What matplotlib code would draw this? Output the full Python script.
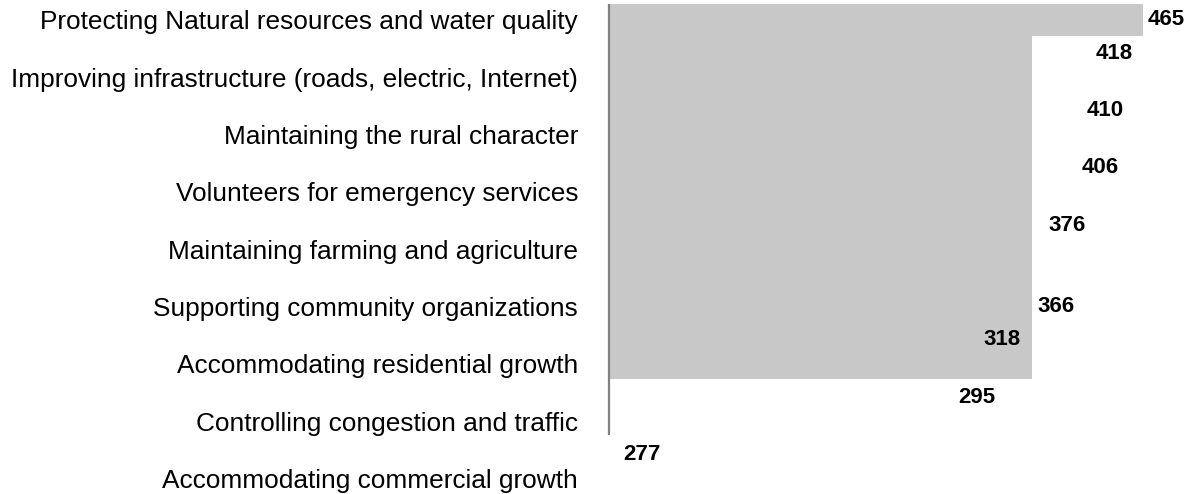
import matplotlib.pyplot as plt

categories = [
    'Protecting Natural resources and water quality',
    'Improving infrastructure (roads, electric, Internet)',
    'Maintaining the rural character',
    'Volunteers for emergency services',
    'Maintaining farming and agriculture',
    'Supporting community organizations',
    'Accommodating residential growth',
    'Controlling congestion and traffic',
    'Accommodating commercial growth',
]
values = [465, 418, 410, 406, 376, 366, 318, 295, 277]

plt.rcParams['font.family'] = ['Liberation Sans', 'DejaVu Sans']

fig = plt.figure(figsize=(12.02, 4.94), dpi=100)
ax = fig.add_axes([608 / 1202, 0, 594 / 1202, 1])

x0 = -13.4
ax.set_xlim(x0, 517.9)
ax.set_ylim(8.272, -0.349)

# only two grey blocks show up in the source picture
ax.barh(0, values[0] - x0, left=x0, height=0.56, color='#c8c8c8')
ax.barh(3.27, values[5] - x0, left=x0, height=5.99, color='#c8c8c8')

ax.vlines(x0 + 0.6, -0.279, 7.243, color='#808080', linewidth=1.6, clip_on=False)

# value labels
for i, v in enumerate(values):
    if i in (0, 5):
        y = i
    else:
        y = i - 0.42
    xv = v if i < len(values) - 1 else -4
    ax.annotate(str(v), (xv, y), xytext=(3.6, 0), textcoords='offset points',
                ha='left', va='center', fontsize=16, fontweight='bold', color='black')

ax.set_yticks(range(len(categories)), categories)
ax.tick_params(axis='y', length=0, pad=21.6, labelsize=18.9)
ax.set_xticks([])
for s in ax.spines.values():
    s.set_visible(False)

fig.savefig('out.png', dpi=100)
